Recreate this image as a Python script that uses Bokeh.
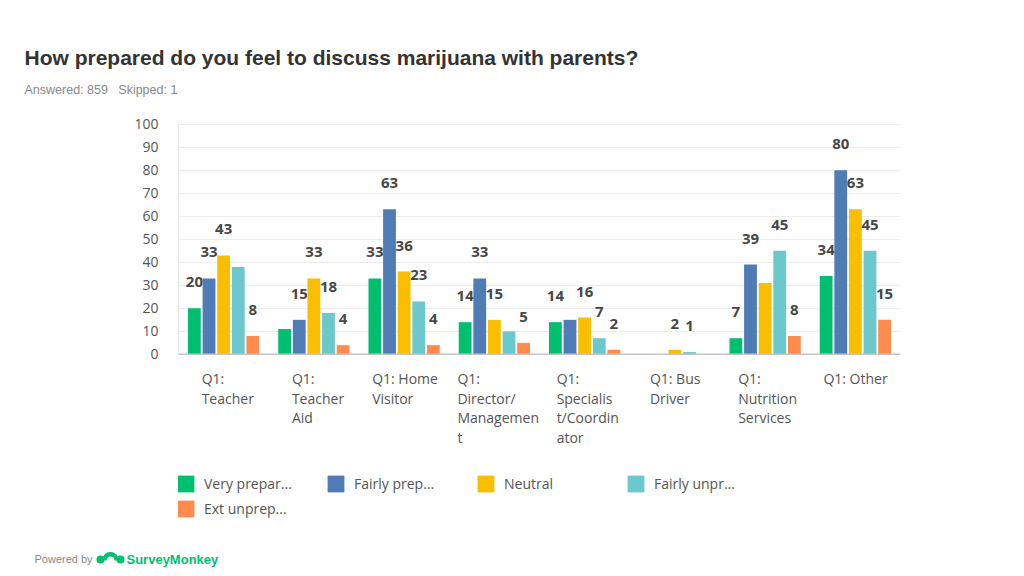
import math
from bokeh.plotting import figure
from bokeh.layouts import column
from bokeh.models import (ColumnDataSource, FixedTicker, Legend, LegendItem, Label, Range1d, Span)
from bokeh.core.properties import value
from bokeh.embed import file_html
from bokeh.resources import INLINE

# ---------------- data ----------------
categories = ["Q1: Teacher", "Q1: Teacher Aid", "Q1: Home Visitor", "Q1: Director/Management",
              "Q1: Specialist/Coordinator", "Q1: Bus Driver", "Q1: Nutrition Services", "Q1: Other"]
tick_labels = ["Q1:\nTeacher", "Q1:\nTeacher\nAid", "Q1: Home\nVisitor", "Q1:\nDirector/\nManagemen\nt",
               "Q1:\nSpecialis\nt/Coordin\nator", "Q1: Bus\nDriver", "Q1:\nNutrition\nServices", "Q1: Other"]
series_names = ["Very prepared", "Fairly prepared", "Neutral", "Fairly unprepared", "Ext unprepared"]
legend_labels = ["Very prepar...", "Fairly prep...", "Neutral", "Fairly unpr...", "Ext unprep..."]

very_prepared = [20, 11, 33, 14, 14, 0, 7, 34]
fairly_prepared = [33, 15, 63, 33, 15, 0, 39, 80]
neutral = [43, 33, 36, 15, 16, 2, 31, 63]
fairly_unprepared = [38, 18, 23, 10, 7, 1, 45, 45]
ext_unprepared = [8, 4, 4, 5, 2, 0, 8, 15]

# which value labels are shown in the chart (others were hidden)
very_shown = [1, 0, 1, 1, 1, 0, 1, 1]
fairly_shown = [1, 1, 1, 1, 0, 0, 1, 1]
neutral_shown = [1, 1, 1, 1, 1, 1, 0, 1]
funprep_shown = [0, 1, 1, 0, 1, 1, 1, 1]
ext_shown = [1, 1, 1, 1, 1, 0, 1, 1]

y_ticks = [0, 10, 20, 30, 40, 50, 60, 70, 80, 90, 100]

title_text = "How prepared do you feel to discuss marijuana with parents?"
subtitle_text = "Answered: 859\u00a0\u00a0\u00a0Skipped: 1"

# ---------------- style / layout ----------------
colors = ["#00BF6F", "#507CB6", "#F9BE00", "#6BC8CD", "#FF8B4F"]
W = 1016
TOP_H = 112          # header strip (title + subtitle)
MAIN_H = 428         # chart strip
FOOT_H = 32          # footer strip
FL, FR = 178, 900    # plot area left/right (px)
Y0_PX, Y100_PX = 354, 124
cat_px = (FR - FL) / len(categories)
px_per_unit = (Y0_PX - Y100_PX) / 100.0
label_shift_px = [-22, -22, -32, -37, -28, -25, -27, -32]
bar_step = 0.162
bar_w = 0.142


def strip(height):
    f = figure(width=W, height=height, output_backend="svg", toolbar_location=None,
               x_range=Range1d(0, W), y_range=Range1d(height, 0),
               x_axis_type=None, y_axis_type=None, min_border=0)
    f.frame_align = False
    f.outline_line_color = None
    f.background_fill_color = "white"
    f.border_fill_color = "white"
    return f


# ---------- header ----------
head = strip(TOP_H)
head.add_layout(Label(x=24, y=57, text=title_text, text_font="Liberation Sans",
                      text_font_style="bold", text_font_size="21px", text_color="#333333",
                      text_baseline="alphabetic"))
head.add_layout(Label(x=24, y=89, text=subtitle_text, text_font="Liberation Sans",
                      text_font_size="12.5px", text_color="#888888", text_baseline="alphabetic"))

# ---------- main chart ----------
frame_top = Y100_PX - TOP_H
frame_bottom_px = TOP_H + MAIN_H
y_start = -(frame_bottom_px - Y0_PX) / px_per_unit

p = figure(width=W, height=MAIN_H, output_backend="svg", toolbar_location=None,
           x_range=Range1d(0, len(categories)), y_range=Range1d(y_start, 100.3),
           x_axis_type=None, min_border_left=FL, min_border_right=W - FR,
           min_border_top=frame_top - 1, min_border_bottom=0)
p.frame_align = False
p.outline_line_color = None
p.background_fill_color = "white"
p.border_fill_color = "white"

ya = p.yaxis[0]
ya.ticker = FixedTicker(ticks=y_ticks)
ya.bounds = (0, 100)
ya.major_tick_line_color = None
ya.minor_tick_line_color = None
ya.axis_line_color = "#e4e4e4"
ya.major_label_standoff = 14
ya.major_label_text_font = "Open Sans"
ya.major_label_text_font_size = "14px"
ya.major_label_text_color = "#555555"
p.ygrid.grid_line_color = "#ececec"
p.ygrid.grid_line_width = 1

p.add_layout(Span(location=0, dimension="width", line_color="#c4c4c4", line_width=1.5))

series_vals = [very_prepared, fairly_prepared, neutral, fairly_unprepared, ext_unprepared]
series_shown = [very_shown, fairly_shown, neutral_shown, funprep_shown, ext_shown]

renderers = []
for k, (vals, shown) in enumerate(zip(series_vals, series_shown)):
    xs = [i + 0.5 + (k - 2) * bar_step for i in range(len(categories))]
    src = ColumnDataSource(dict(x=xs, top=vals, cat=categories,
                                label=[str(v) if s else "" for v, s in zip(vals, shown)]))
    r = p.vbar(x="x", top="top", bottom=0, width=bar_w, source=src,
               fill_color=colors[k], line_color=None)
    renderers.append(r)
    p.text(x="x", y="top", text="label", source=src, text_align="center",
           text_baseline="alphabetic", y_offset=-26, text_font=value("Open Sans"),
           text_font_size="15px", text_font_style="bold", text_color="#474747")

# category labels (left-aligned lines, as in the original)
cat_src = ColumnDataSource(dict(
    x=[i + 0.5 + label_shift_px[i] / cat_px for i in range(len(categories))],
    y=[0] * len(categories), text=tick_labels))
p.text(x="x", y="y", text="text", source=cat_src, text_align="left", text_baseline="top",
       y_offset=15, text_font=value("Open Sans"), text_font_size="14px",
       text_color="#555555", text_line_height=1.03)

legend = Legend(items=[LegendItem(label=lab, renderers=[r]) for lab, r in zip(legend_labels, renderers)],
                location=(-3, 21), orientation="horizontal", ncols=4,
                glyph_width=21, glyph_height=21, label_standoff=8, label_width=117,
                label_height=21, spacing=4, padding=0, margin=0,
                border_line_color=None, background_fill_alpha=0,
                label_text_font="Open Sans", label_text_font_size="14px", label_text_color="#555555")
p.add_layout(legend)

# ---------- footer ----------
foot = strip(FOOT_H)
foot.add_layout(Label(x=34, y=18, text="Powered by", text_font="Liberation Sans",
                      text_font_size="11px", text_color="#888888", text_baseline="alphabetic"))
# small logo mark
foot.annular_wedge(x=[110], y=[20], inner_radius=4, outer_radius=8.5, start_angle=0,
                   end_angle=math.pi, inner_radius_units="screen", outer_radius_units="screen",
                   fill_color="#00BF6F", line_color=None)
foot.scatter(x=[100, 120], y=[19, 19], size=8, marker="circle", fill_color="#00BF6F", line_color=None)
foot.add_layout(Label(x=126, y=19, text="SurveyMonkey", text_font="Liberation Sans",
                      text_font_style="bold", text_font_size="13px", text_color="#00BF6F",
                      text_baseline="alphabetic"))

layout = column(head, p, foot, spacing=0)
open("out.html", "w").write(file_html(layout, INLINE))
